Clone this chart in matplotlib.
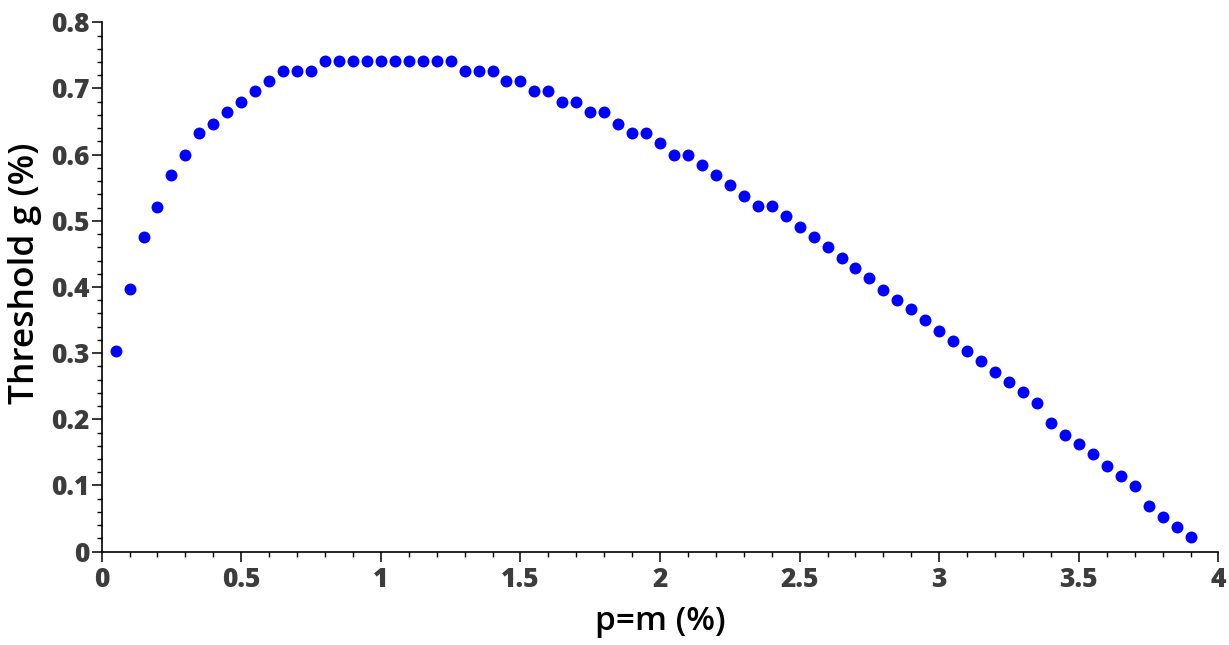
import matplotlib
matplotlib.use("Agg")
import matplotlib.pyplot as plt
from matplotlib.ticker import MultipleLocator
import numpy as np

# p=m (%) values
pm = [0.05, 0.10, 0.15, 0.20, 0.25, 0.30, 0.35, 0.40, 0.45, 0.50,
      0.55, 0.60, 0.65, 0.70, 0.75, 0.80, 0.85, 0.90, 0.95, 1.00,
      1.05, 1.10, 1.15, 1.20, 1.25, 1.30, 1.35, 1.40, 1.45, 1.50,
      1.55, 1.60, 1.65, 1.70, 1.75, 1.80, 1.85, 1.90, 1.95, 2.00,
      2.05, 2.10, 2.15, 2.20, 2.25, 2.30, 2.35, 2.40, 2.45, 2.50,
      2.55, 2.60, 2.65, 2.70, 2.75, 2.80, 2.85, 2.90, 2.95, 3.00,
      3.05, 3.10, 3.15, 3.20, 3.25, 3.30, 3.35, 3.40, 3.45, 3.50,
      3.55, 3.60, 3.65, 3.70, 3.75, 3.80, 3.85, 3.90]
# threshold g (%)
g = [0.303, 0.397, 0.475, 0.521, 0.570, 0.600, 0.632, 0.647, 0.664, 0.679,
     0.696, 0.711, 0.726, 0.726, 0.726, 0.742, 0.742, 0.742, 0.742, 0.742,
     0.742, 0.742, 0.742, 0.742, 0.742, 0.726, 0.726, 0.726, 0.711, 0.711,
     0.696, 0.696, 0.679, 0.679, 0.664, 0.664, 0.647, 0.632, 0.632, 0.617,
     0.600, 0.600, 0.585, 0.570, 0.554, 0.538, 0.522, 0.522, 0.507, 0.491,
     0.475, 0.460, 0.444, 0.428, 0.413, 0.396, 0.381, 0.366, 0.350, 0.334,
     0.319, 0.303, 0.288, 0.271, 0.256, 0.241, 0.225, 0.194, 0.177, 0.162,
     0.147, 0.130, 0.115, 0.099, 0.069, 0.052, 0.037, 0.022]
xticks = [0, 0.5, 1, 1.5, 2, 2.5, 3, 3.5, 4]
xlabels = ["0", "0.5", "1", "1.5", "2", "2.5", "3", "3.5", "4"]
yticks = [0, 0.1, 0.2, 0.3, 0.4, 0.5, 0.6, 0.7, 0.8]
ylabels = ["0", "0.1", "0.2", "0.3", "0.4", "0.5", "0.6", "0.7", "0.8"]

fig = plt.figure(figsize=(12.29, 6.45), dpi=100)
ax = fig.add_axes([0.0827, 0.1447, 0.9087, 0.8207])
ax.plot(pm, g, "o", color="#0000ff", ms=8.6, mew=0, clip_on=False)

ax.set_xlim(0, 4); ax.set_ylim(0, 0.8)
ax.set_xticks(xticks); ax.set_xticklabels(xlabels)
ax.set_yticks(yticks); ax.set_yticklabels(ylabels)
ax.xaxis.set_minor_locator(MultipleLocator(0.1))
ax.yaxis.set_minor_locator(MultipleLocator(0.02))
for s in ("top", "right"): ax.spines[s].set_visible(False)
for s in ("left", "bottom"): ax.spines[s].set_linewidth(1.2)
ax.tick_params(which="major", direction="out", length=7, width=1.1, color="black",
               labelsize=19, labelcolor="#3c3c3c", pad=4)
ax.tick_params(axis="y", which="major", pad=2)
ax.tick_params(which="minor", direction="out", length=3.5, width=1.0, color="black")
for lb in ax.get_xticklabels() + ax.get_yticklabels():
    lb.set_fontfamily("Open Sans"); lb.set_fontweight("heavy")
ax.set_xlabel("p=m (%)", fontsize=24, family="Open Sans", fontweight="semibold", labelpad=9)
ax.set_ylabel("Threshold g (%)", fontsize=25.5, family="Open Sans", fontweight="semibold")
ax.yaxis.set_label_coords(-0.053, 0.525)

fig.savefig("out.png", dpi=100)
